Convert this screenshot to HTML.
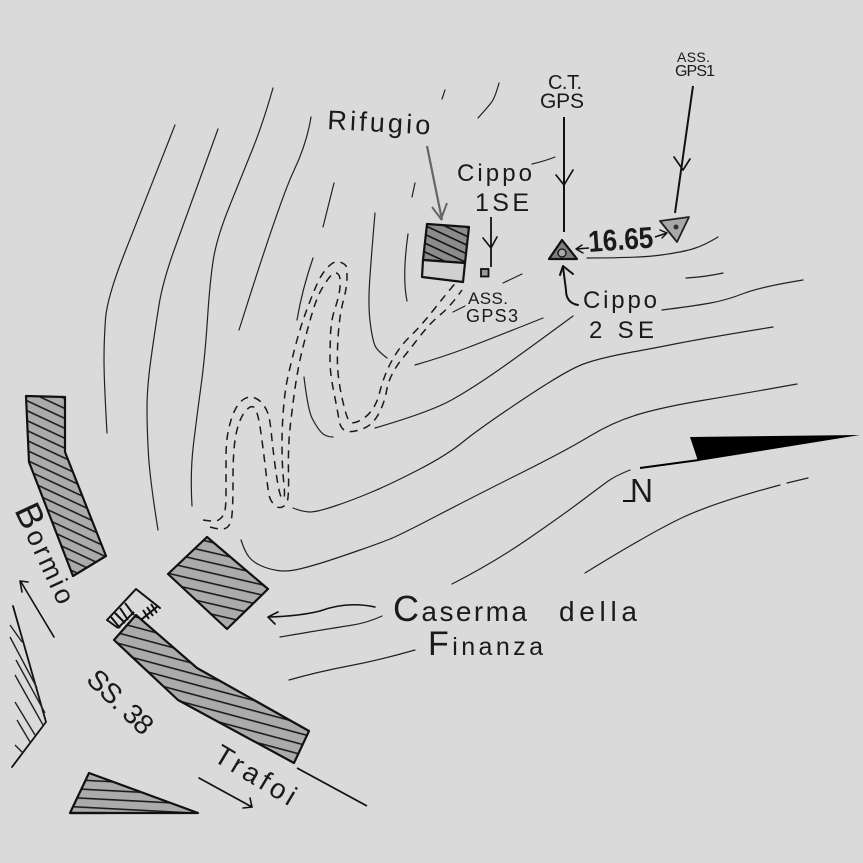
<!DOCTYPE html>
<html><head><meta charset="utf-8"><style>
html,body{margin:0;padding:0;background:#dadada}
svg{display:block}
text{font-family:"Liberation Sans",sans-serif;fill:#1a1a1a}
.c{fill:none;stroke:#222;stroke-width:1.2;stroke-linejoin:round;stroke-linecap:round}
.d{fill:none;stroke:#1a1a1a;stroke-width:1.5;stroke-dasharray:8 6}
.a{fill:none;stroke:#111;stroke-width:2;stroke-linejoin:round;stroke-linecap:round}
.b{stroke:#111;stroke-width:2.2;stroke-linejoin:round}
</style></head><body>
<svg width="863" height="863" viewBox="0 0 863 863" xmlns="http://www.w3.org/2000/svg">
<defs>
<pattern id="h1" width="40" height="9" patternUnits="userSpaceOnUse" patternTransform="rotate(25)"><rect width="40" height="9" fill="#ababab"/><rect y="0" width="40" height="1.6" fill="#1c1c1c"/></pattern>
<pattern id="h2" width="40" height="10" patternUnits="userSpaceOnUse" patternTransform="rotate(13)"><rect width="40" height="10" fill="#ababab"/><rect y="0" width="40" height="1.6" fill="#1c1c1c"/></pattern>
<pattern id="h3" width="40" height="10" patternUnits="userSpaceOnUse" patternTransform="rotate(15)"><rect width="40" height="10" fill="#ababab"/><rect y="0" width="40" height="1.6" fill="#1c1c1c"/></pattern>
<pattern id="h4" width="40" height="9" patternUnits="userSpaceOnUse" patternTransform="rotate(3)"><rect width="40" height="9" fill="#ababab"/><rect y="0" width="40" height="1.6" fill="#1c1c1c"/></pattern>
<pattern id="h5" width="40" height="8" patternUnits="userSpaceOnUse" patternTransform="rotate(25)"><rect width="40" height="8" fill="#8c8c8c"/><rect y="0" width="40" height="1.6" fill="#111"/></pattern>
</defs>
<rect width="863" height="863" fill="#dadada"/>

<!-- contours -->
<polyline class="c" points="175,125 141,211 107,298 104,340 104,380 107,433"/>
<polyline class="c" points="218,129 190,207 163,280 155,330 147,387 147,430 150,480 158,530"/>
<polyline class="c" points="273,88 263,123 243,173 217,237 210,280 205,357 197,415 190,473 192,506"/>
<polyline class="c" points="311,117 307,143 280,200 239,330"/>
<polyline class="c" points="334,183 323,227"/>
<polyline class="c" points="313,258 302,290 297,320"/>
<polyline class="c" points="304,377 308,410 316,426 325,437 333,437"/>
<polyline class="c" points="375,213 371,260 368,307 373,343 379,352 387,358"/>
<polyline class="c" points="408,234 402,277 407,301"/>
<polyline class="c" points="415,183 412,197"/>
<polyline class="c" points="445,90 442,99"/>
<polyline class="c" points="499,83 495,98 487,108 478,118"/>
<polyline class="c" points="532,164 545,161 555,157"/>
<polyline class="c" points="587,258 640,258 683,252 705,245 718,237"/>
<polyline class="c" points="686,278 705,277 723,273"/>
<polyline class="c" points="662,310 694,306 727,300 760,287 803,280"/>
<polyline class="c" points="415,365 443,357 493,338 543,318"/>
<polyline class="c" points="375,428 430,412 473,388 527,350 573,316"/>
<polyline class="c" points="293,508 303,512 317,512 353,500 393,483 447,455 480,428 567,370 600,358 660,347 700,339 773,327"/>
<polyline class="c" points="241,540 245,552 253,562 268,569 287,572 312,566 340,557 380,543 400,535 473,497 567,450 613,422 663,407 747,393 797,384"/>
<polyline class="c" points="452,584 493,563 560,517 600,487 615,476 630,470"/>
<polyline class="c" points="585,573 650,533 713,503 780,485"/>
<polyline class="c" points="787,483 808,478"/>
<polyline class="c" points="453,312 465,306"/>
<polyline class="c" points="503,283 522,274"/>
<polyline class="c" points="280,637 333,628 367,623 382,616"/>
<polyline class="c" points="289,680 317,672 380,660 415,650"/>

<!-- serpentine road -->
<polyline class="d" points="203,520 215,522 222,518 226,510 226,475 226,440 232,415 240,401 250,396 260,400 267,410 270,420 273,450 277,480 280,495 283,500 285,495 283,475 282,457 282,427 285,390 290,367 300,328 313,293 322,273 335,260 345,264 347,268 347,287 340,313 337,350 338,380 347,420 353,424 367,417 377,403 382,383 390,363 403,343 420,327 447,293 458,280"/>
<polyline class="d" points="210,527 220,530 230,527 233,510 233,447 240,417 252,404 258,413 263,447 268,490 270,500 277,508 284,507 289,500 288,447 292,410 298,367 308,327 317,297 327,280 335,271 341,277 339,297 331,320 330,350 330,373 338,413 340,427 348,433 367,428 377,418 385,400 388,382 397,365 407,353 430,323 450,307 462,290"/>

<!-- buildings -->
<polygon class="b" fill="url(#h1)" points="26,396 65,397 65,452 106,556 73,576 29,462"/>
<polygon class="b" fill="url(#h2)" points="207,537 268,589 227,629 168,574"/>
<polygon class="b" fill="url(#h3)" points="136,615 197,668 309,731 294,763 178,700 114,640"/>
<polygon class="b" fill="url(#h4)" points="89,773 198,813 70,813" stroke-width="1.6"/>
<line x1="70" y1="813" x2="105" y2="813" stroke="#111" stroke-width="2.2"/>

<!-- porch -->
<polyline class="a" points="107,620 136,589 160,608"/>
<g stroke="#111" stroke-width="2">
<line x1="107" y1="620" x2="118" y2="628"/>
<line x1="111" y1="617" x2="120" y2="628"/>
<line x1="115" y1="613" x2="125" y2="623"/>
<line x1="120" y1="608" x2="128" y2="620"/>
<line x1="125" y1="603" x2="134" y2="615"/>
<line x1="118" y1="628" x2="134" y2="612"/>
<line x1="142" y1="619" x2="158" y2="606"/>
<line x1="143" y1="610" x2="149" y2="619"/>
<line x1="147" y1="607" x2="153" y2="616"/>
<line x1="151" y1="604" x2="157" y2="613"/>
</g>

<!-- left wedge -->
<polyline class="a" points="13,606 46,722 12,767" style="stroke-width:1.8"/>
<g stroke="#222" stroke-width="1.4">
<line x1="10" y1="625" x2="22" y2="642"/>
<line x1="10" y1="637" x2="37" y2="688"/>
<line x1="16" y1="660" x2="45" y2="713"/>
<line x1="15" y1="675" x2="43" y2="725"/>
<line x1="15" y1="702" x2="35" y2="735"/>
<line x1="17" y1="720" x2="30" y2="742"/>
<line x1="15" y1="745" x2="23" y2="753"/>
</g>

<!-- road edge and direction arrows -->
<line x1="297" y1="768" x2="367" y2="806" stroke="#111" stroke-width="1.8"/>
<polyline class="a" style="stroke-width:1.6" points="54,637 21,582"/>
<polyline class="a" style="stroke-width:1.6" points="28,582 20,581 22,592"/>
<polyline class="a" style="stroke-width:1.6" points="199,778 252,807"/>
<polyline class="a" style="stroke-width:1.6" points="250,798 252,807 243,808"/>
<path class="a" style="stroke-width:1.6" d="M375,607 Q347,601 320,611 Q300,616 270,617"/>
<polyline class="a" style="stroke-width:1.6" points="278,612 268,617 275,624"/>

<!-- Rifugio -->
<polygon class="b" fill="url(#h5)" points="427,224 469,227 465,263 423,260"/>
<polygon class="b" fill="#d0d0d0" points="423,260 465,263 463,282 422,277"/>
<line x1="427" y1="146" x2="442" y2="220" stroke="#666" stroke-width="2.2"/>
<polyline fill="none" stroke="#666" stroke-width="2" points="432,207 441,219 447,203"/>

<!-- Cippo 1SE -->
<line x1="491" y1="217" x2="491" y2="267" stroke="#111" stroke-width="1.8"/>
<polyline class="a" style="stroke-width:1.6" points="483,238 491,248 497,237"/>
<rect x="481" y="269" width="7.5" height="7.5" fill="#999" stroke="#111" stroke-width="1.8"/>

<!-- C.T. GPS -->
<line x1="564" y1="117" x2="564" y2="232" stroke="#111" stroke-width="2"/>
<polyline class="a" style="stroke-width:1.7" points="556,175 564,185 573,170"/>
<polygon class="b" fill="#808080" points="562,240 577,259 549,259"/>
<circle cx="562" cy="253" r="4" fill="#aaa" stroke="#111" stroke-width="1.3"/>

<!-- GPS1 -->
<line x1="693" y1="86" x2="675" y2="213" stroke="#111" stroke-width="2"/>
<polyline class="a" style="stroke-width:1.7" points="674,157 683,170 690,159"/>
<polygon fill="#a8a8a8" stroke="#222" stroke-width="1.8" stroke-linejoin="round" points="660,221 689,217 677,242"/>
<circle cx="676" cy="227" r="2.5" fill="#333"/>

<!-- distance arrows -->
<line x1="589" y1="248" x2="576" y2="249" stroke="#111" stroke-width="1.6"/>
<polyline class="a" style="stroke-width:1.4" points="582,245 576,249 583,253"/>
<line x1="655" y1="237" x2="667" y2="233" stroke="#111" stroke-width="1.6"/>
<polyline class="a" style="stroke-width:1.4" points="660,230 667,233 662,238"/>

<!-- Cippo 2SE arrow -->
<path class="a" d="M578,305 Q566,303 566,290 L563,267"/>
<polyline class="a" points="560,275 563,266 573,274"/>

<!-- north arrow -->
<polygon fill="#000" points="690,437 860,435 698,461"/>
<line x1="640" y1="468" x2="699" y2="460" stroke="#000" stroke-width="2"/>
<line x1="623" y1="501" x2="633" y2="501" stroke="#111" stroke-width="2"/>

<!-- text -->
<text x="327" y="129" font-size="27" textLength="103" lengthAdjust="spacing" transform="rotate(3 327 129)">Rifugio</text>
<text x="457" y="181" font-size="24" textLength="75" lengthAdjust="spacing">Cippo</text>
<text x="475" y="211" font-size="25" textLength="54" lengthAdjust="spacing">1SE</text>
<text x="468" y="304" font-size="17" textLength="40" lengthAdjust="spacing">ASS.</text>
<text x="466" y="322" font-size="18" textLength="52" lengthAdjust="spacing">GPS3</text>
<text x="548" y="89" font-size="20" textLength="34" lengthAdjust="spacing">C.T.</text>
<text x="540" y="108" font-size="21" textLength="44" lengthAdjust="spacing">GPS</text>
<text x="677" y="62" font-size="14" textLength="33" lengthAdjust="spacing">ASS.</text>
<text x="675" y="76" font-size="16" textLength="40" lengthAdjust="spacing">GPS1</text>
<text x="589" y="252" font-size="30" font-weight="bold" textLength="65" lengthAdjust="spacingAndGlyphs" transform="rotate(-4 589 252)">16.65</text>
<text x="583" y="308" font-size="24" textLength="74" lengthAdjust="spacing">Cippo</text>
<text x="589" y="338" font-size="24" textLength="65" lengthAdjust="spacing">2 SE</text>
<text x="393" y="621" font-size="28" textLength="134" lengthAdjust="spacing"><tspan font-size="36">C</tspan>aserma</text>
<text x="559" y="621" font-size="28" textLength="78" lengthAdjust="spacing">della</text>
<text x="428" y="655" font-size="25" textLength="115" lengthAdjust="spacing"><tspan font-size="34">F</tspan>inanza</text>
<text x="630" y="502" font-size="33" textLength="23" lengthAdjust="spacingAndGlyphs">N</text>
<text x="14" y="510" font-size="27" textLength="106" lengthAdjust="spacing" transform="rotate(65 14 510)"><tspan font-size="36">B</tspan>ormio</text>
<text x="85" y="681" font-size="28" textLength="80" lengthAdjust="spacing" transform="rotate(44 85 681)">SS. 38</text>
<text x="212" y="760" font-size="28" textLength="90" lengthAdjust="spacing" transform="rotate(31 212 760)">Trafoi</text>
</svg>
<script>
(function(){
var NS="http://www.w3.org/2000/svg";
var list=document.querySelectorAll("polyline.c,polyline.d");
for(var i=0;i<list.length;i++){
var el=list[i];
var p=el.getAttribute("points").trim().split(/\s+/).map(function(s){return s.split(",").map(Number);});
if(p.length<3)continue;
var d="M"+p[0][0]+","+p[0][1];
for(var j=1;j<p.length-1;j++){
var mx=(p[j][0]+p[j+1][0])/2,my=(p[j][1]+p[j+1][1])/2;
if(j==p.length-2){mx=p[j+1][0];my=p[j+1][1];}
d+=" Q"+p[j][0]+","+p[j][1]+" "+mx+","+my;
}
var n=document.createElementNS(NS,"path");
n.setAttribute("d",d);
n.setAttribute("class",el.getAttribute("class"));
el.parentNode.replaceChild(n,el);
}
})();
</script>
</body></html>
